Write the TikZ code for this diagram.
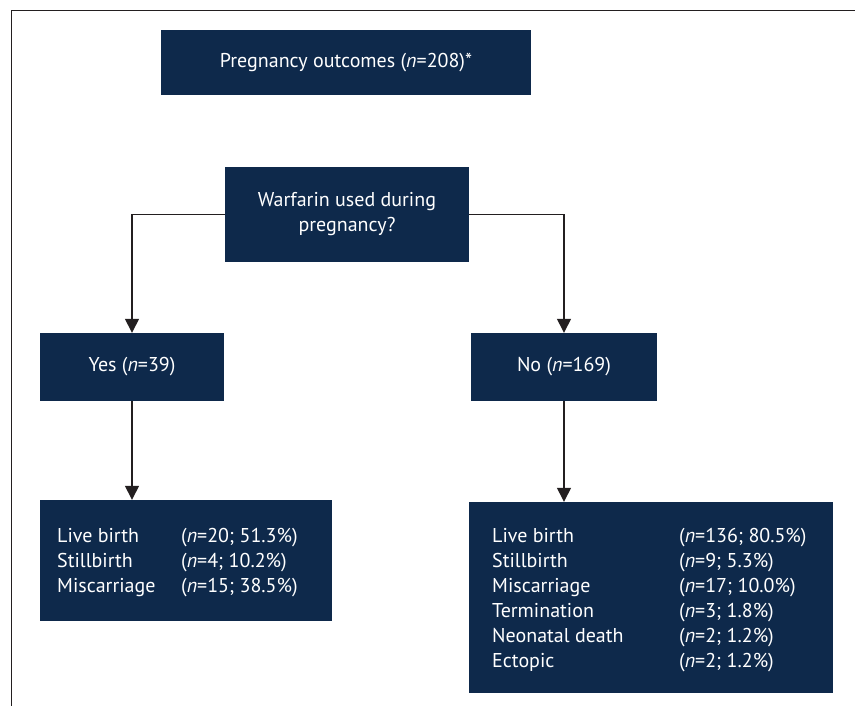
\documentclass[tikz,border=0pt]{standalone}
\usepackage{fontspec}
\setmainfont{PT Sans}
\usetikzlibrary{arrows.meta,positioning}
\definecolor{navy}{RGB}{14,41,75}
\definecolor{linec}{RGB}{35,31,32}
\begin{document}
\begin{tikzpicture}[x=1pt,y=-1pt,
  box/.style={fill=navy,draw=none,text=white,font=\fontsize{20}{25}\selectfont,inner sep=0pt},
  conn/.style={draw=linec,line width=1.4pt,-{Triangle[length=14pt,width=14pt]}},
  txt/.style={text=white,font=\fontsize{20}{25}\selectfont,anchor=base west,inner sep=0pt}]
\useasboundingbox (0,0) rectangle (855,706);
\draw[linec,line width=1.5pt] (855,10.5) -- (11.5,10.5) -- (11.5,706);
% boxes
\node[box,minimum width=370pt,minimum height=65pt] (top) at (346,62.5) {Pregnancy outcomes (\textit{n}=208)*};
\node[box,minimum width=244pt,minimum height=95pt,align=center] (war) at (347,214.5) {Warfarin used during\\pregnancy?};
\node[box,minimum width=184pt,minimum height=68pt] (yes) at (132,367) {Yes (\textit{n}=39)};
\node[box,minimum width=186pt,minimum height=68pt] (no) at (564,367) {No (\textit{n}=169)};
\node[box,minimum width=292pt,minimum height=121pt] (yesres) at (186,560.5) {};
\node[box,minimum width=364pt,minimum height=191pt] (nores) at (651,597.5) {};
% connectors
\draw[conn] (war.west) -| (yes.north);
\draw[conn] (war.east) -| (no.north);
\draw[conn] (yes.south) -- (yesres.north -| yes.south);
\draw[conn] (no.south) -- (nores.north -| no.south);
% texts in yes results
\node[txt] (y1) at (57,542.5) {Live birth};
\node[txt] (y1n) at (181,542.5) {(\textit{n}=20; 51.3\%)};
\node[txt] (y2) at (57,567.5) {Stillbirth};
\node[txt] (y2n) at (181,567.5) {(\textit{n}=4; 10.2\%)};
\node[txt] (y3) at (57,592.5) {Miscarriage};
\node[txt] (y3n) at (181,592.5) {(\textit{n}=15; 38.5\%)};
% texts in no results
\node[txt] (n1) at (492,542.5) {Live birth};
\node[txt] (n1n) at (679,542.5) {(\textit{n}=136; 80.5\%)};
\node[txt] (n2) at (492,567.5) {Stillbirth};
\node[txt] (n2n) at (679,567.5) {(\textit{n}=9; 5.3\%)};
\node[txt] (n3) at (492,592.5) {Miscarriage};
\node[txt] (n3n) at (679,592.5) {(\textit{n}=17; 10.0\%)};
\node[txt] (n4) at (492,617.5) {Termination};
\node[txt] (n4n) at (679,617.5) {(\textit{n}=3; 1.8\%)};
\node[txt] (n5) at (492,642.5) {Neonatal death};
\node[txt] (n5n) at (679,642.5) {(\textit{n}=2; 1.2\%)};
\node[txt] (n6) at (492,667.5) {Ectopic};
\node[txt] (n6n) at (679,667.5) {(\textit{n}=2; 1.2\%)};
\end{tikzpicture}
\end{document}
